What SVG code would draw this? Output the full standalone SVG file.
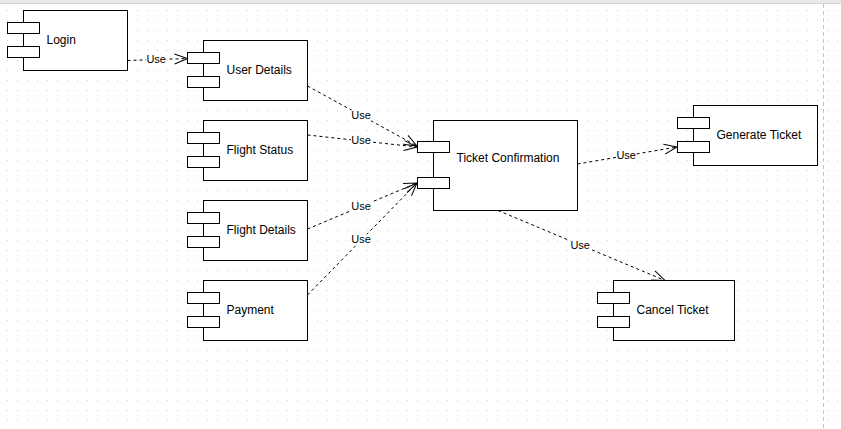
<svg xmlns="http://www.w3.org/2000/svg" width="841" height="429" viewBox="0 0 841 429">
<style>
.box{fill:#fff;stroke:#000;stroke-width:1}
.lbl{font-family:"Liberation Sans",Arial,sans-serif;font-size:12px;fill:#000}
.use{font-family:"Liberation Sans",Arial,sans-serif;font-size:11px;fill:#000;text-anchor:middle}
.ubg{fill:#fff}
.dep{fill:none;stroke:#000;stroke-width:1;stroke-dasharray:3 3;marker-end:url(#arr)}
</style>
<defs>
<pattern id="grid" x="7" y="0" width="10" height="10" patternUnits="userSpaceOnUse">
<rect x="0" y="0" width="1" height="1" fill="#d2d2d2"/>
</pattern>
<marker id="arr" markerUnits="userSpaceOnUse" markerWidth="16" markerHeight="14" viewBox="-14 -7 16 14" refX="0" refY="0" orient="auto" overflow="visible">
<path d="M-13,-5 L0,0 L-13,5" fill="none" stroke="#000" stroke-width="1"/>
</marker>
</defs>
<rect width="841" height="429" fill="#fff"/>
<rect x="0" y="5" width="841" height="424" fill="url(#grid)"/>
<rect x="0" y="0" width="841" height="3" fill="#e9e9e9"/>
<line x1="0" y1="3.5" x2="841" y2="3.5" stroke="#d4d4d4"/>
<line x1="823.5" y1="4" x2="823.5" y2="429" stroke="#c4c4c4" stroke-dasharray="4 3"/>

<g id="connectors">
<path class="dep" d="M127.5,60.5 L187.5,58.5"/>
<path class="dep" d="M307.5,86 L417,146"/>
<path class="dep" d="M307.5,135 L417,147"/>
<path class="dep" d="M307.5,229 L417,183"/>
<path class="dep" d="M307.5,295 L417,183"/>
<path class="dep" d="M577.5,164 L677,147"/>
<path class="dep" d="M498,210.5 L665,280.5"/>
<rect class="ubg" x="146.2" y="54" width="20" height="11"/>
<rect class="ubg" x="351" y="110.3" width="20" height="11"/>
<rect class="ubg" x="351" y="135.3" width="20" height="11"/>
<rect class="ubg" x="351" y="201" width="20" height="11"/>
<rect class="ubg" x="351" y="234.3" width="20" height="11"/>
<rect class="ubg" x="616.2" y="150.3" width="20" height="11"/>
<rect class="ubg" x="570.2" y="239.7" width="20" height="11"/>
<text class="use" x="156.2" y="63">Use</text>
<text class="use" x="361" y="119.3">Use</text>
<text class="use" x="361" y="144.3">Use</text>
<text class="use" x="361" y="210">Use</text>
<text class="use" x="361" y="243.3">Use</text>
<text class="use" x="626.2" y="159.3">Use</text>
<text class="use" x="580.2" y="248.7">Use</text>
</g>

<g id="login">
<rect class="box" x="23.5" y="10.5" width="104" height="60"/>
<rect class="box" x="7.5" y="22.5" width="32" height="11"/>
<rect class="box" x="7.5" y="46.5" width="32" height="11"/>
<text class="lbl" x="46.5" y="44.3">Login</text>
</g>

<g id="user-details">
<rect class="box" x="203.5" y="40.5" width="104" height="60"/>
<rect class="box" x="187.5" y="52.5" width="32" height="11"/>
<rect class="box" x="187.5" y="76.5" width="32" height="11"/>
<text class="lbl" x="226.5" y="74">User Details</text>
</g>

<g id="flight-status">
<rect class="box" x="203.5" y="120.5" width="104" height="60"/>
<rect class="box" x="187.5" y="132.5" width="32" height="11"/>
<rect class="box" x="187.5" y="156.5" width="32" height="11"/>
<text class="lbl" x="226.5" y="154">Flight Status</text>
</g>

<g id="flight-details">
<rect class="box" x="203.5" y="200.5" width="104" height="60"/>
<rect class="box" x="187.5" y="212.5" width="32" height="11"/>
<rect class="box" x="187.5" y="236.5" width="32" height="11"/>
<text class="lbl" x="226.5" y="234">Flight Details</text>
</g>

<g id="payment">
<rect class="box" x="203.5" y="280.5" width="104" height="60"/>
<rect class="box" x="187.5" y="292.5" width="32" height="11"/>
<rect class="box" x="187.5" y="316.5" width="32" height="11"/>
<text class="lbl" x="226.5" y="313.5">Payment</text>
</g>

<g id="ticket-confirmation">
<rect class="box" x="433.5" y="120.5" width="144" height="90"/>
<rect class="box" x="417.5" y="141.5" width="32" height="11"/>
<rect class="box" x="417.5" y="177.5" width="32" height="11"/>
<text class="lbl" x="456.5" y="162">Ticket Confirmation</text>
</g>

<g id="generate-ticket">
<rect class="box" x="693.5" y="105.5" width="124" height="60"/>
<rect class="box" x="677.5" y="117.5" width="32" height="11"/>
<rect class="box" x="677.5" y="141.5" width="32" height="11"/>
<text class="lbl" x="716.5" y="138.7">Generate Ticket</text>
</g>

<g id="cancel-ticket">
<rect class="box" x="613.5" y="280.5" width="121" height="60"/>
<rect class="box" x="597.5" y="292.5" width="32" height="11"/>
<rect class="box" x="597.5" y="316.5" width="32" height="11"/>
<text class="lbl" x="636.5" y="313.5">Cancel Ticket</text>
</g>
</svg>
